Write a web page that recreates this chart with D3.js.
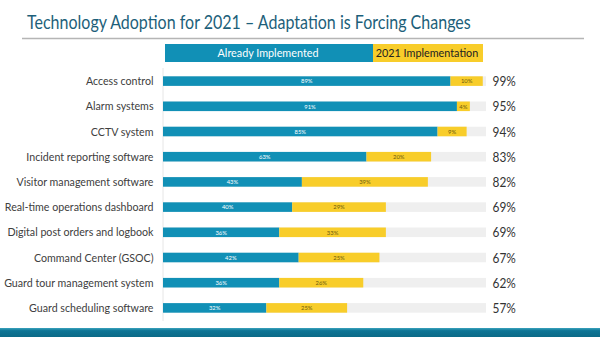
<!DOCTYPE html>
<html><head><meta charset="utf-8">
<script src="https://cdn.jsdelivr.net/npm/d3@7"></script>
<style>html,body{margin:0;padding:0;background:#fff;}svg{display:block;font-family:Lato,"Open Sans",sans-serif;}</style>
</head><body>
<svg id="c" width="600" height="337"></svg>
<script>
const categories = ["Access control","Alarm systems","CCTV system","Incident reporting software","Visitor management software","Real-time operations dashboard","Digital post orders and logbook","Command Center (GSOC)","Guard tour management system","Guard scheduling software"];
const alreadyImplemented = [89,91,85,63,43,40,36,42,36,32];
const implementation2021 = [10,4,9,20,39,29,33,25,26,25];
const totals = [99,95,94,83,82,69,69,67,62,57];
const seriesNames = ["Already Implemented","2021 Implementation"];
const title = "Technology Adoption for 2021 \u2013 Adaptation is Forcing Changes";

const blue = "#1190b6", yellow = "#f8cd2a", grey = "#efefef";
const SX = 0.9; // condense to mimic the original narrow typeface
const svg = d3.select("#c");

function place(sel, fx, fy, sx) {
  sel.attr("transform", function(d,i){ return `translate(${fx(d,i)},${fy(d,i)}) scale(${sx},1)`; });
  return sel;
}

const defs = svg.append("defs");
const g1 = defs.append("linearGradient").attr("id","band").attr("x1",0).attr("y1",0).attr("x2",0).attr("y2",1);
g1.append("stop").attr("offset","0%").attr("stop-color","#3aa3bd");
g1.append("stop").attr("offset","30%").attr("stop-color","#0e7596");
g1.append("stop").attr("offset","100%").attr("stop-color","#0c6a87");

const t = svg.append("text").attr("font-size",18.5).attr("fill","#1d5f7a").text(title);
const tw = t.node().getComputedTextLength();
t.attr("transform", `translate(27,28.5) scale(${444/tw},1)`);
svg.append("line").attr("x1",22).attr("x2",584).attr("y1",38.5).attr("y2",38.5).attr("stroke","#b5b5b5").attr("stroke-width",1.5);

const x = d3.scaleLinear().domain([0,100]).range([163,486]);
const y = d3.scaleBand().domain(categories).range([68.5,320.5]).paddingInner(0.62).paddingOuter(0.31);

// legend
const lg = svg.append("g");
lg.append("rect").attr("x",165).attr("y",44).attr("width",208).attr("height",18).attr("fill",blue);
lg.append("rect").attr("x",373).attr("y",44).attr("width",110).attr("height",18).attr("fill",yellow);
lg.append("text").attr("text-anchor","middle").attr("font-size",12).attr("fill","#fff").text(seriesNames[0]).attr("transform",`translate(268,57) scale(${SX},1)`);
lg.append("text").attr("text-anchor","middle").attr("font-size",12).attr("fill","#222").text(seriesNames[1]).attr("transform",`translate(427,57) scale(${SX},1)`);

// axis line
svg.append("line").attr("x1",163).attr("x2",163).attr("y1",68).attr("y2",321).attr("stroke","#e6e6e6").attr("stroke-width",1);

const rows = svg.append("g").selectAll("g").data(categories).join("g");
rows.append("rect").attr("x",x(0)).attr("y",d=>y(d)).attr("width",x(100)-x(0)).attr("height",y.bandwidth()).attr("fill",grey);
rows.append("rect").attr("x",x(0)).attr("y",d=>y(d)).attr("width",(d,i)=>x(alreadyImplemented[i])-x(0)).attr("height",y.bandwidth()).attr("fill",blue);
rows.append("rect").attr("x",(d,i)=>x(alreadyImplemented[i])).attr("y",d=>y(d)).attr("width",(d,i)=>x(alreadyImplemented[i]+implementation2021[i])-x(alreadyImplemented[i])).attr("height",y.bandwidth()).attr("fill",yellow);
place(rows.append("text").attr("text-anchor","middle").attr("font-size",6.5).attr("fill","#fff").text((d,i)=>alreadyImplemented[i]+"%"),
  (d,i)=>x(alreadyImplemented[i]/2), d=>y(d)+y.bandwidth()/2+2.2, SX);
place(rows.append("text").attr("text-anchor","middle").attr("font-size",6.5).attr("fill","#6b5a10").text((d,i)=>implementation2021[i]+"%"),
  (d,i)=>x(alreadyImplemented[i]+implementation2021[i]/2), d=>y(d)+y.bandwidth()/2+2.2, SX);
place(rows.append("text").attr("text-anchor","end").attr("font-size",11.6).attr("fill","#404040").text(d=>d),
  ()=>153.5, d=>y(d)+y.bandwidth()/2+4, 0.92);
place(rows.append("text").attr("font-size",13.5).attr("fill","#333").text((d,i)=>totals[i]+"%"),
  ()=>492.5, d=>y(d)+y.bandwidth()/2+5, 0.88);

svg.append("rect").attr("x",0).attr("y",328).attr("width",600).attr("height",9).attr("fill","url(#band)");
</script>
</body></html>
